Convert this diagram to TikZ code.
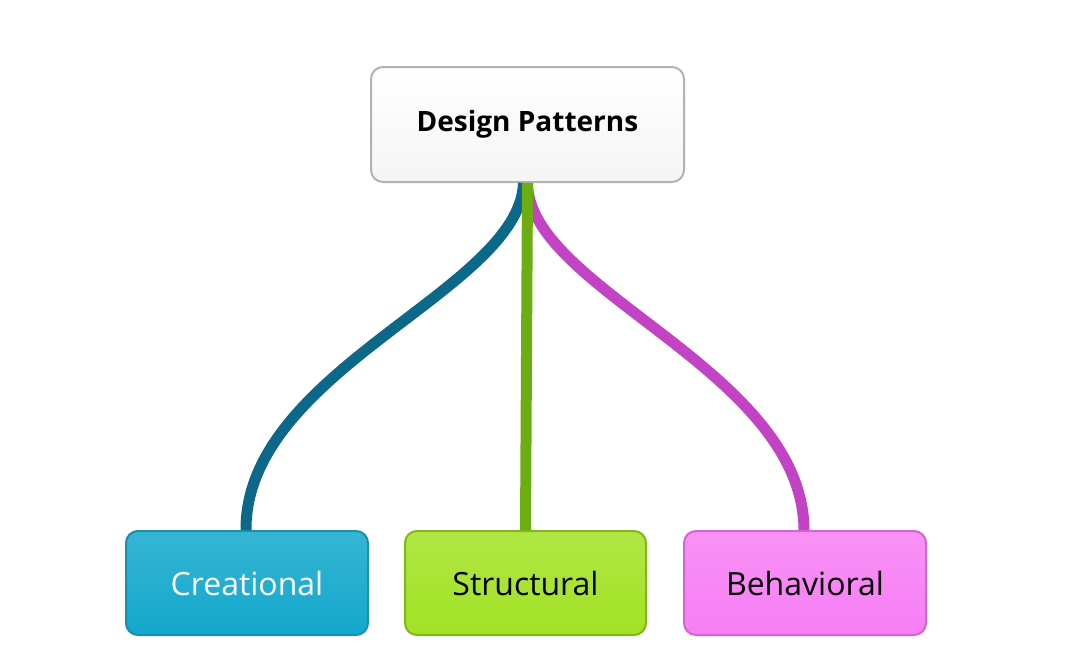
\documentclass[tikz,border=0pt]{standalone}
\usepackage{fontspec}
\setmainfont{Open Sans}
\begin{document}
\begin{tikzpicture}[x=1pt,y=-1pt,
  box/.style={draw,line width=2pt,rounded corners=12pt,inner sep=0pt,anchor=north west},
  conn/.style={line width=11pt}]
\useasboundingbox[fill=white] (0,0) rectangle (1072,664);
\definecolor{cb}{HTML}{12A8CC}\definecolor{cbd}{HTML}{1A8FAE}
\definecolor{sg}{HTML}{A2E224}\definecolor{sgd}{HTML}{80B818}
\definecolor{bm}{HTML}{F77EF4}\definecolor{bmd}{HTML}{D265CF}
\definecolor{lb}{HTML}{0B6888}\definecolor{lg}{HTML}{6CAE12}\definecolor{lm}{HTML}{C244C4}
\node[box,draw=black!30,top color=white,bottom color=black!4,minimum width=313pt,minimum height=115pt] (dp) at (370,66) {};
\node at (dp.center) {\fontsize{28}{32}\selectfont\bfseries Design Patterns};
\node[box,draw=cbd,top color=cb!85!white,bottom color=cb,minimum width=242pt,minimum height=104pt] (cr) at (125,530) {};
\node[text=white] at (cr.center) {\fontsize{32}{36}\selectfont Creational};
\node[box,draw=sgd,top color=sg!85!white,bottom color=sg,minimum width=241pt,minimum height=104pt] (st) at (404,530) {};
\node at (st.center) {\fontsize{32}{36}\selectfont Structural};
\node[box,draw=bmd,top color=bm!85!white,bottom color=bm,minimum width=242pt,minimum height=104pt] (be) at (683,530) {};
\node at (be.center) {\fontsize{32}{36}\selectfont Behavioral};
\coordinate (t1) at ([xshift=-4pt]dp.south);
\coordinate (t2) at (dp.south);
\coordinate (b1) at ([xshift=-1pt]cr.north);
\coordinate (b3) at ([xshift=-1pt]be.north);
\draw[conn,draw=lb] (t1) .. controls (520,290) and (245,370) .. (b1);
\draw[conn,draw=lm] (t2) .. controls (528,290) and (803,370) .. (b3);
\draw[conn,draw=lg] (t2) -- (st.north);
\end{tikzpicture}
\end{document}
